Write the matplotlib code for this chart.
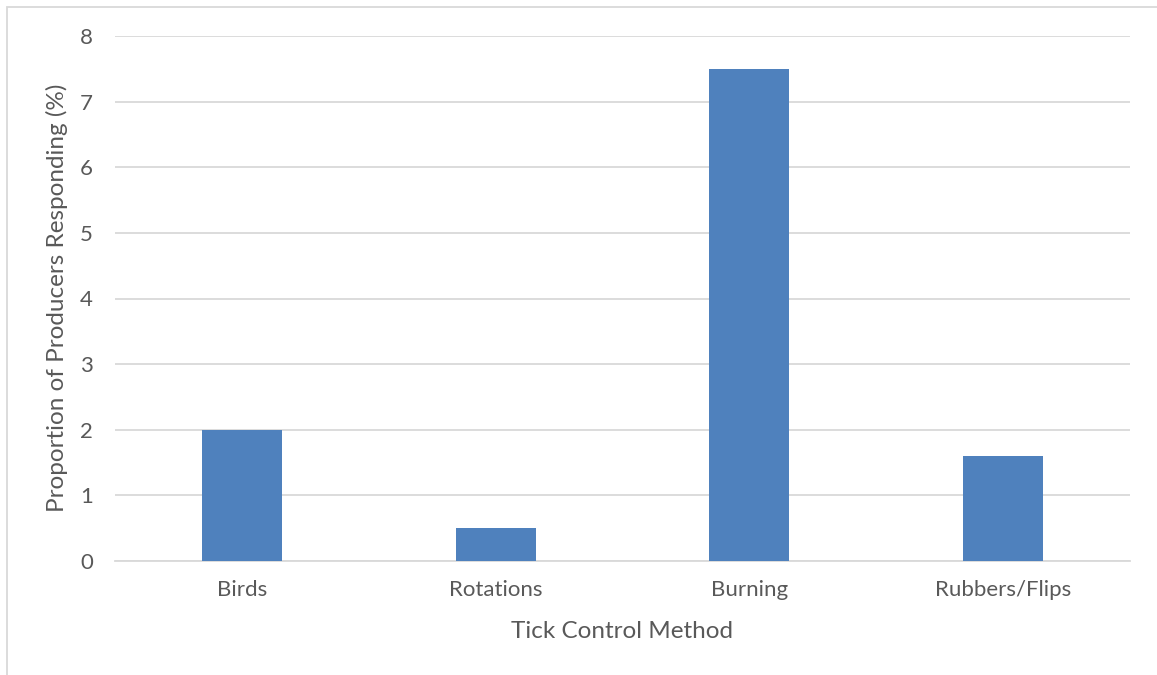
import matplotlib.pyplot as plt
from matplotlib.patches import Rectangle

# data
methods = ["Birds", "Rotations", "Burning", "Rubbers/Flips"]
proportions = [2.0, 0.5, 7.5, 1.6]
y_ticks = [0, 1, 2, 3, 4, 5, 6, 7, 8]

bar_color = "#4F81BD"
grid_color = "#D9D9D9"
text_color = "#595959"

plt.rcParams['font.family'] = ['Lato', 'DejaVu Sans']

fig = plt.figure(figsize=(11.57, 6.75), dpi=100)
W, H = 1157, 675
# plot area in pixels: left 115, right 1130, top 36, bottom 561
ax = fig.add_axes([115 / W, 1 - 561 / H, (1130 - 115) / W, (561 - 36) / H])

x = range(len(methods))
ax.bar(x, proportions, width=0.315, color=bar_color, zorder=3)

ax.set_xlim(-0.5, len(methods) - 0.5)
ax.set_ylim(0, 8)
ax.set_yticks(y_ticks)
ax.set_xticks(list(x))
ax.set_xticklabels(methods)

ax.yaxis.grid(True, color=grid_color, linewidth=1.3, zorder=0)
for s in ['top', 'right', 'left']:
    ax.spines[s].set_visible(False)
ax.spines['bottom'].set_color(grid_color)
ax.spines['bottom'].set_linewidth(1.3)
ax.tick_params(axis='both', length=0, labelsize=16, colors=text_color)
ax.tick_params(axis='y', pad=16)
ax.tick_params(axis='x', pad=14)

# axis titles placed at pixel positions
fig.text(622 / W, 1 - 631 / H, "Tick Control Method", fontsize=17.5,
         color=text_color, ha='center', va='center')
fig.text(57 / W, 1 - 298 / H, "Proportion of Producers Responding (%)",
         fontsize=17.5, color=text_color, rotation=90,
         ha='center', va='center')

# chart border (partly cut off at right and bottom)
fig.patches.append(Rectangle((7 / W, -0.1), 1.2, 1 - 7 / H + 0.1,
                             transform=fig.transFigure, fill=False,
                             edgecolor=grid_color, linewidth=1.3))

plt.savefig("out.png", dpi=100)
